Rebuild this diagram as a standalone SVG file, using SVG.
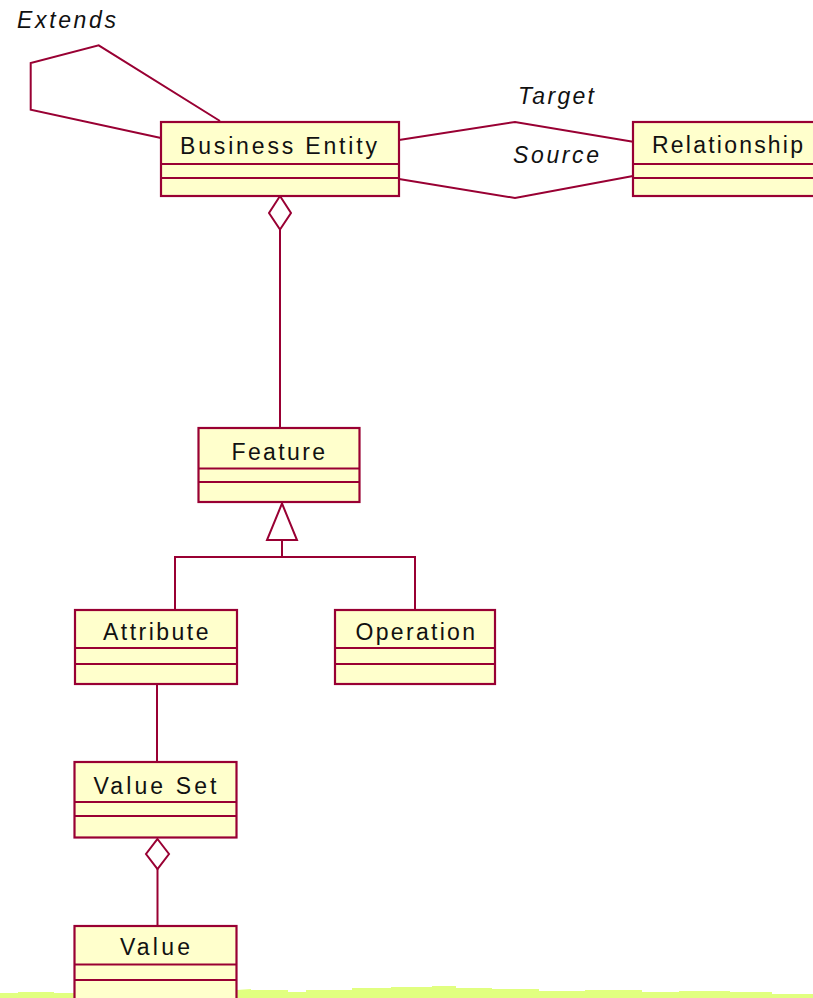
<svg xmlns="http://www.w3.org/2000/svg" width="813" height="998" viewBox="0 0 813 998">
  <style>
    .box { fill: #FFFFCC; stroke: #990033; stroke-width: 2.2; }
    .div { stroke: #990033; stroke-width: 2.2; fill: none; }
    .conn { stroke: #990033; stroke-width: 2; fill: none; stroke-linejoin: miter; }
    .head { stroke: #990033; stroke-width: 2; fill: #FFFFFF; }
    .name { font-family: "Liberation Sans", Arial, sans-serif; font-size: 23px; fill: #111111; }
    .role { font-family: "Liberation Sans", Arial, sans-serif; font-size: 23px; font-style: italic; fill: #111111; }
  </style>

  <rect x="0" y="0" width="813" height="998" fill="#FFFFFF"/>

  <!-- ragged green strip along the bottom edge -->
  <polygon fill="#E1FF80" points="0,993 18,993 18,992 54,992 54,993 75,993 75,998 0,998 0,993 237,998 237,990 251,989 251,990 288,990 288,992 306,992 306,990 352,990 352,988 391,988 391,987 432,987 432,986 456,986 456,988 492,988 492,989 539,989 539,991 585,991 585,990 642,990 642,992 679,992 679,991 730,991 730,992 772,992 772,994 813,994 813,998 237,998"/>

  <g id="connectors">
    <!-- Extends: self association on Business Entity -->
    <polyline class="conn" points="220,121 98.7,45.3 30.7,63 30.7,109.7 161,138"/>
    <!-- Target -->
    <polyline class="conn" points="399,140 515,122 633,141.7"/>
    <!-- Source -->
    <polyline class="conn" points="399,179 515,198 633,176"/>
    <!-- Business Entity aggregates Feature -->
    <line class="conn" x1="280" y1="229.5" x2="280" y2="428"/>
    <polygon class="head" points="280,196 291,213 280,229.5 269,213"/>
    <!-- Feature generalization -->
    <polyline class="conn" points="175,610 175,557 415,557 415,610"/>
    <line class="conn" x1="282" y1="540" x2="282" y2="557"/>
    <polygon class="head" points="282,503.5 297,540 267,540"/>
    <!-- Attribute to Value Set -->
    <line class="conn" x1="157" y1="684" x2="157" y2="762"/>
    <!-- Value Set aggregates Value -->
    <line class="conn" x1="157.5" y1="869" x2="157.5" y2="926"/>
    <polygon class="head" points="157.5,839 169,854 157.5,869 146,854"/>
    <text class="role" x="17" y="27.5" textLength="99" lengthAdjust="spacing">Extends</text>
    <text class="role" x="518" y="104" textLength="76" lengthAdjust="spacing">Target</text>
    <text class="role" x="513" y="163" textLength="86" lengthAdjust="spacing">Source</text>
  </g>

  <g id="business-entity">
    <rect class="box" x="161" y="122" width="238" height="74"/>
    <line class="div" x1="161" y1="164" x2="399" y2="164"/>
    <line class="div" x1="161" y1="178" x2="399" y2="178"/>
    <text class="name" x="180" y="154" textLength="197" lengthAdjust="spacing">Business Entity</text>
  </g>

  <g id="relationship">
    <rect class="box" x="633" y="122" width="200" height="74"/>
    <line class="div" x1="633" y1="164" x2="833" y2="164"/>
    <line class="div" x1="633" y1="178" x2="833" y2="178"/>
    <text class="name" x="652" y="153" textLength="151" lengthAdjust="spacing">Relationship</text>
  </g>

  <g id="feature">
    <rect class="box" x="198.5" y="428" width="161" height="74"/>
    <line class="div" x1="198.5" y1="468.5" x2="359.5" y2="468.5"/>
    <line class="div" x1="198.5" y1="482" x2="359.5" y2="482"/>
    <text class="name" x="231.5" y="460" textLength="93.5" lengthAdjust="spacing">Feature</text>
  </g>

  <g id="attribute">
    <rect class="box" x="75" y="610" width="162" height="74"/>
    <line class="div" x1="75" y1="648" x2="237" y2="648"/>
    <line class="div" x1="75" y1="664" x2="237" y2="664"/>
    <text class="name" x="103" y="640" textLength="105.5" lengthAdjust="spacing">Attribute</text>
  </g>

  <g id="operation">
    <rect class="box" x="335" y="610" width="160" height="74"/>
    <line class="div" x1="335" y1="648" x2="495" y2="648"/>
    <line class="div" x1="335" y1="664" x2="495" y2="664"/>
    <text class="name" x="355.5" y="640" textLength="119.5" lengthAdjust="spacing">Operation</text>
  </g>

  <g id="value-set">
    <rect class="box" x="74.5" y="762" width="162" height="75.5"/>
    <line class="div" x1="74.5" y1="802" x2="236.5" y2="802"/>
    <line class="div" x1="74.5" y1="816" x2="236.5" y2="816"/>
    <text class="name" x="93.5" y="793.5" textLength="123" lengthAdjust="spacing">Value Set</text>
  </g>

  <g id="value">
    <rect class="box" x="74.5" y="926" width="162" height="90"/>
    <line class="div" x1="74.5" y1="964.5" x2="236.5" y2="964.5"/>
    <line class="div" x1="74.5" y1="980" x2="236.5" y2="980"/>
    <text class="name" x="120" y="954.5" textLength="70" lengthAdjust="spacing">Value</text>
  </g>
</svg>
